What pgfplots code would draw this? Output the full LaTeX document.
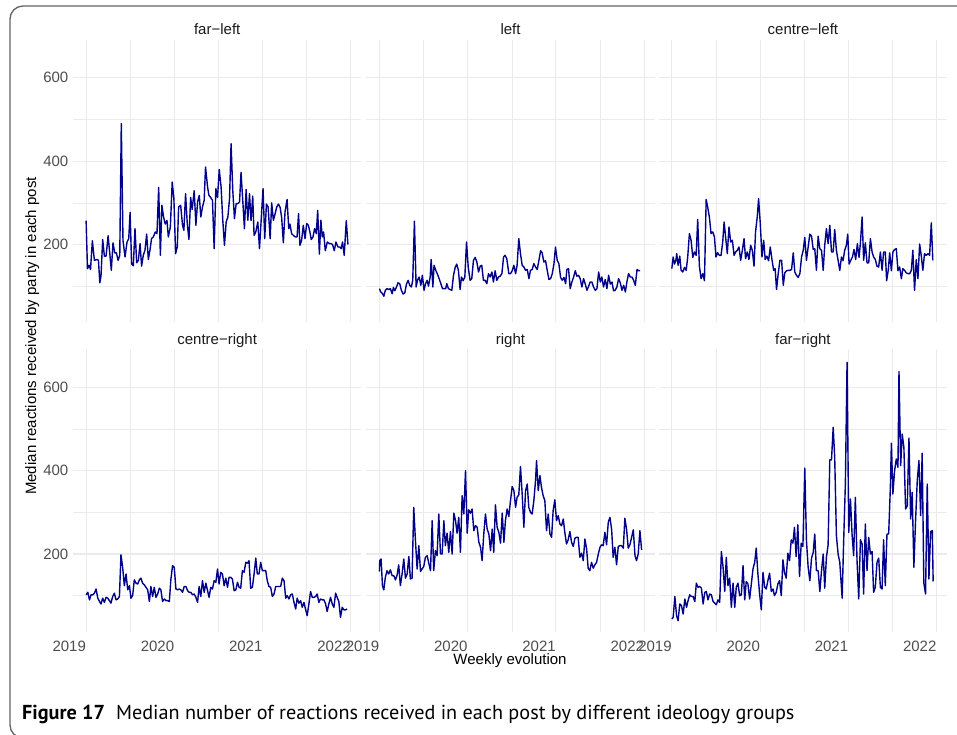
\documentclass[border=0pt]{standalone}
\usepackage{fontspec}
\setmainfont{Liberation Sans}
\newfontfamily\capfont{PT Sans}
\usepackage{pgfplots}
\pgfplotsset{compat=1.18}
\definecolor{linecol}{RGB}{0,0,139}
\definecolor{gridcol}{RGB}{235,235,235}
\definecolor{tickcol}{RGB}{77,77,77}
\definecolor{stripcol}{RGB}{26,26,26}
\definecolor{framecol}{RGB}{100,100,100}
\pgfplotsset{facet/.style={
  scale only axis, width=288.4pt, height=282.3pt,
  xmin=-7.75, xmax=162.75, ymin=13.5, ymax=691,
  xtick={0,52.18,104.36,156.54}, xticklabels={2019,2020,2021,2022},
  minor xtick={26.09,78.27,130.45},
  ytick={200,400,600}, minor ytick={100,300,500},
  grid=both,
  major grid style={draw=gridcol, line width=1.1pt},
  minor grid style={draw=gridcol, line width=0.6pt},
  axis line style={draw=none},
  major tick length=0pt, minor tick length=0pt,
  /pgf/number format/assume math mode=true,
  tick label style={font=\fontsize{15}{18}\selectfont, text=tickcol},
  xticklabel style={anchor=north east, inner sep=0pt, yshift=-9pt},
  yticklabel style={anchor=east, inner sep=0pt, xshift=-4.5pt},
},
ser/.style={draw=linecol, line width=1.4pt, line join=round, mark=none}}
\newcommand{\strip}[2]{\node[anchor=base, inner sep=0pt, yshift=5pt, text=stripcol, font=\fontsize{15}{18}\selectfont] at (#1.north) {#2};}
\begin{document}
\begin{tikzpicture}
\path[use as bounding box] (0,0) rectangle (957pt,734pt);
\draw[framecol, line width=1.3pt, rounded corners=13pt] (10pt,728pt) rectangle (980pt,-4pt);

% far-left
\begin{axis}[facet, name=p1, at={(73pt,411.8pt)}, anchor=south west, xticklabels={}]
\addplot[ser] coordinates {(0,257)(0.8,142)(1.8,150)(2.6,140)(3.7,209)(4.9,162)(6.5,164)(7.3,162)(8.1,108)(8.8,124)(9.8,212)(10.8,172)(11.8,172)(13,221)(14,178)(14.9,138)(15.9,204)(16.9,180)(17.9,180)(18.9,162)(19.9,174)(20.8,490)(21.8,210)(23,170)(24.2,206)(25.2,214)(26,277)(26.9,153)(27.9,149)(28.9,238)(29.9,156)(30.9,162)(31.9,202)(32.8,148)(33.8,174)(34.8,186)(35.8,225)(36.8,164)(37.8,188)(38.7,214)(39.7,218)(40.9,230)(41.9,226)(42.9,337)(43.9,174)(44.8,294)(45.8,266)(46.8,249)(47.8,258)(48.6,218)(49.8,242)(50.9,350)(51.9,310)(52.9,178)(53.9,194)(54.7,290)(55.9,294)(57,246)(57.8,234)(58.8,322)(59.8,250)(60.8,212)(61.8,313)(62.7,284)(63.9,329)(64.9,246)(65.9,302)(66.9,318)(67.8,266)(68.8,290)(69.8,306)(70.6,386)(71.8,338)(72.6,318)(73.6,313)(74.7,306)(75.7,190)(76.7,334)(77.7,313)(78.7,380)(79.8,338)(80.8,258)(81.8,198)(82.8,254)(83.8,266)(84.8,310)(85.7,442)(86.7,330)(87.7,262)(88.7,298)(89.7,298)(90.7,302)(91.6,373)(92.6,306)(93.6,238)(94.6,332)(95.6,258)(96.6,322)(97.5,257)(98.5,316)(99.3,222)(100.3,230)(101.5,254)(102.5,190)(103.6,266)(104.6,334)(105.6,214)(106.6,297)(107.6,290)(108.8,214)(109.7,300)(110.7,258)(111.7,273)(112.7,290)(113.7,297)(114.7,289)(115.6,265)(116.6,204)(117.6,278)(118.8,308)(119.8,238)(120.5,249)(121.5,226)(122.5,222)(123.7,218)(124.7,218)(125.6,274)(126.4,198)(127.4,210)(128.4,246)(129.4,214)(130.4,250)(131.4,246)(132.3,230)(133.1,212)(134.1,218)(135.1,238)(136.1,226)(136.9,282)(137.9,177)(138.8,258)(139.6,218)(140.4,230)(141.4,185)(142.6,206)(143.8,202)(144.7,202)(145.7,200)(146.7,185)(147.7,206)(148.9,194)(149.9,194)(150.8,190)(151.6,206)(152.6,174)(153.8,257)(154.8,200)};
\end{axis}

% left
\begin{axis}[facet, name=p2, at={(366.3pt,411.8pt)}, anchor=south west, xticklabels={}, yticklabels={}]
\addplot[ser] coordinates {(0,94)(0.8,86)(1.8,82)(2.6,76)(3.5,90)(4.5,94)(5.5,92)(6.5,94)(7.5,82)(8.3,97)(9.1,89)(10.1,98)(11,108)(12,106)(13,90)(14,81)(15,84)(16,105)(17,114)(17.9,102)(18.9,98)(19.7,114)(20.7,256)(21.7,98)(22.5,114)(23.5,122)(24.5,102)(25.4,126)(26.4,90)(27.2,105)(28.2,114)(29,100)(30,122)(30.6,164)(31.6,98)(32.3,150)(33.3,138)(34.3,129)(35.3,118)(36.3,106)(37.3,94)(38.3,94)(39.2,94)(39.8,106)(40.8,94)(41.8,92)(42.8,90)(43.8,126)(44.8,145)(45.7,153)(46.7,138)(47.7,92)(48.5,122)(49.5,113)(50.5,122)(51.5,206)(52.5,146)(53.6,114)(54.6,118)(55.6,162)(56.6,169)(57.6,158)(58.6,134)(59.6,148)(60.5,150)(61.5,114)(62.5,114)(63.5,106)(64.5,130)(65.5,122)(66.5,134)(67.4,110)(68.4,137)(69.4,114)(70.4,122)(71.4,124)(72.4,130)(73.4,170)(74.3,174)(75.3,166)(76.5,130)(77.5,130)(78.5,137)(79.5,150)(80.5,130)(81.4,150)(82.4,214)(83.4,178)(84.4,150)(85.4,146)(86.4,138)(87.4,140)(88.4,118)(89.3,138)(90.3,140)(91.3,154)(92.3,146)(93.3,140)(94.3,162)(95.3,185)(96.2,180)(97.2,158)(98.2,161)(99.2,138)(100.2,116)(101.2,118)(102.2,130)(103.2,154)(104.1,194)(105.1,162)(106.1,154)(107.1,121)(108.1,114)(109.1,121)(110.1,106)(110.8,140)(111.8,142)(112.8,94)(113.8,110)(114.8,122)(115.8,137)(116.7,124)(117.7,126)(118.7,118)(119.7,98)(120.7,118)(121.7,105)(122.7,90)(123.7,100)(124.6,110)(125.6,110)(126.6,98)(127.6,90)(128.6,94)(129.6,134)(130.6,110)(131.5,122)(132.5,98)(133.5,116)(134.5,94)(135.5,126)(136.5,105)(137.5,110)(138.4,89)(139.4,90)(140.4,98)(141.4,118)(142.4,108)(143.4,90)(144.4,102)(145.4,86)(146.3,110)(147.3,130)(148.3,122)(149.3,122)(150.3,114)(151.3,102)(152.3,140)(153.3,137)(154.2,137)};
\end{axis}

% centre-left
\begin{axis}[facet, name=p3, at={(658.7pt,411.8pt)}, anchor=south west, xticklabels={}, yticklabels={}]
\addplot[ser] coordinates {(0,142)(0.8,170)(1.6,153)(2.4,162)(2.9,178)(3.7,150)(4.7,172)(5.5,138)(6.5,134)(7.5,145)(8.5,138)(9.4,170)(10.4,226)(11.4,210)(12.4,169)(13.4,182)(14.4,174)(15.3,260)(16.3,148)(17.3,118)(18.3,130)(19.3,113)(20.3,308)(21.2,290)(22.2,266)(23.2,226)(24.2,230)(25.2,218)(26.1,170)(27.1,180)(28.1,174)(29.1,174)(30.1,206)(30.9,254)(31.8,218)(32.8,178)(33.8,242)(34.8,206)(35.8,210)(36.8,174)(37.7,182)(38.7,186)(39.7,194)(40.7,162)(41.7,186)(42.7,214)(43.6,166)(44.6,182)(45.6,164)(46.6,198)(47.6,186)(48.6,148)(49.5,230)(50.5,266)(51.3,310)(52.3,250)(53.3,170)(54.3,210)(55.2,164)(56.2,172)(57.2,161)(58.2,194)(59.2,164)(60.2,138)(61.1,142)(61.9,92)(62.9,130)(63.9,162)(64.9,162)(65.9,102)(66.8,132)(67.8,137)(68.8,138)(69.8,138)(70.8,140)(71.8,180)(72.7,134)(73.7,126)(74.7,121)(75.7,130)(76.7,170)(77.7,186)(78.6,217)(79.6,162)(80.6,194)(81.6,225)(82.6,220)(83.6,188)(84.5,190)(85.5,138)(86.5,220)(87.5,190)(88.5,186)(89.5,138)(90.4,198)(91.4,238)(92.4,202)(93.4,246)(94.4,182)(95.4,182)(96.3,236)(97.3,186)(98.3,162)(99.3,138)(100.3,170)(101.2,161)(102.2,186)(103.2,198)(104,225)(104.8,153)(105.8,162)(106.8,170)(107.7,188)(108.7,164)(109.7,202)(110.7,169)(111.5,204)(112.5,266)(113.4,162)(114.4,204)(115.4,156)(116.4,156)(117.4,214)(118.4,182)(119.3,170)(120.3,164)(121.3,148)(122.3,146)(123.3,182)(124.3,138)(125.2,182)(126.2,182)(127,113)(128,140)(128.8,180)(129.8,137)(130.7,182)(131.7,188)(132.7,190)(133.7,137)(134.7,146)(135.7,118)(136.6,142)(137.6,138)(138.6,132)(139.6,130)(140.6,130)(141.6,138)(142.5,186)(143.5,90)(144.5,164)(145.5,118)(146.5,201)(147.5,172)(148.4,138)(149.4,178)(150.4,174)(151.4,178)(152.4,174)(153.4,252)(154.3,162)};
\end{axis}

% centre-right
\begin{axis}[facet, name=p4, at={(73pt,102.3pt)}, anchor=south west]
\addplot[ser] coordinates {(0,102)(1,108)(2,90)(2.9,102)(3.9,102)(4.9,106)(5.9,116)(6.9,94)(7.9,86)(8.8,80)(9.8,94)(10.8,84)(11.8,96)(12.8,94)(13.8,88)(14.7,82)(15.7,98)(16.7,106)(17.7,90)(18.7,92)(19.7,98)(20.6,198)(21.6,168)(22.6,124)(23.6,152)(24.6,114)(25.6,124)(26.5,94)(27.5,100)(28.5,138)(29.5,130)(30.5,128)(31.5,138)(32.4,142)(33.4,130)(34.4,126)(35.4,120)(36.4,114)(37.4,86)(38.3,122)(39.3,98)(40.3,120)(41.3,96)(42.3,104)(43.3,118)(44.2,114)(45.2,86)(46.2,92)(47.2,88)(48.2,88)(49.2,86)(50.1,138)(51.1,172)(52.1,168)(53.1,116)(54.1,114)(55,116)(56,114)(57,108)(58,122)(59,122)(60,112)(60.9,108)(61.9,108)(62.9,102)(63.9,104)(64.9,96)(65.9,84)(66.8,122)(67.8,98)(68.8,136)(69.8,108)(70.8,130)(71.8,112)(72.7,96)(73.7,120)(74.7,116)(75.7,136)(76.7,132)(77.7,164)(78.6,128)(79.6,156)(80.6,152)(81.6,124)(82.6,142)(83.6,120)(84.5,144)(85.5,144)(86.5,140)(87.5,112)(88.5,114)(89.5,132)(90.4,120)(91.4,118)(92.4,160)(93.4,156)(94.4,180)(95.4,178)(96.3,184)(97.3,118)(98.3,120)(99.3,152)(100.3,190)(101.2,152)(102.2,152)(103.2,180)(104.2,160)(105.2,160)(106.2,160)(107.1,136)(108.1,122)(109.1,120)(110.1,98)(111.1,104)(112.1,122)(113,122)(114,122)(115,122)(116,142)(117,136)(118,94)(118.9,100)(119.9,92)(120.9,102)(121.9,104)(122.9,84)(123.9,68)(124.8,94)(125.8,82)(126.8,88)(127.8,72)(128.8,84)(129.8,66)(130.7,52)(131.7,80)(132.7,110)(133.7,96)(134.7,96)(135.7,98)(136.6,104)(137.6,84)(138.6,92)(139.6,90)(140.6,90)(141.6,80)(142.5,62)(143.5,80)(144.5,96)(145.5,80)(146.5,72)(147.5,106)(148.4,96)(149.4,86)(150.4,48)(151.4,72)(152.4,66)(153.4,66)(154.3,68)};
\end{axis}

% right
\begin{axis}[facet, name=p5, at={(366.3pt,102.3pt)}, anchor=south west, yticklabels={}]
\addplot[ser] coordinates {(0,158)(0.2,184)(1,188)(1.8,124)(2.6,114)(3.5,144)(4.5,160)(5.5,152)(6.5,162)(7.5,148)(8.5,148)(9.5,138)(10.5,150)(11.4,174)(12.4,124)(13.4,152)(14.4,188)(15.4,142)(16.4,152)(17.4,194)(18.3,140)(19.3,142)(20.3,312)(21.3,232)(22.3,164)(23.3,220)(24.3,158)(25.2,164)(26.2,170)(27.2,192)(28.2,196)(29.2,178)(30.2,160)(31.2,280)(32.1,160)(33.1,208)(34.1,196)(35.1,296)(36.1,200)(37.1,200)(38.1,280)(39,220)(40,250)(41,204)(42,254)(43,200)(44,298)(45,280)(45.9,250)(46.9,288)(47.9,204)(48.9,340)(49.9,296)(50.9,400)(51.9,250)(52.8,306)(53.8,298)(54.8,308)(55.8,256)(56.8,268)(57.8,264)(58.8,228)(59.8,216)(60.7,184)(61.7,248)(62.7,296)(63.7,260)(64.7,248)(65.7,208)(66.7,260)(67.6,204)(68.6,318)(69.6,264)(70.6,252)(71.6,226)(72.6,298)(73.6,228)(74.5,280)(75.5,308)(76.5,290)(77.5,328)(78.5,362)(79.5,352)(80.5,312)(81.4,336)(82.4,342)(83.4,410)(84.4,344)(85.4,264)(86.4,352)(87.4,368)(88.3,312)(89.3,300)(90.3,296)(91.3,328)(92.3,376)(92.9,424)(93.9,352)(94.9,388)(95.8,360)(96.8,340)(97.8,328)(98.8,256)(99.8,296)(100.8,248)(101.8,240)(102.7,304)(103.7,330)(104.7,280)(105.7,292)(106.7,272)(107.7,268)(108.7,284)(109.6,252)(110.6,224)(111.6,234)(112.6,254)(113.6,228)(114.6,218)(115.6,238)(116.5,240)(117.5,240)(118.5,192)(119.5,202)(120.5,184)(121.5,236)(122.5,212)(123.4,166)(124.4,160)(125.4,180)(126.4,166)(127.4,174)(128.4,180)(129.4,200)(130.4,216)(131.3,222)(132.3,220)(133.3,252)(134.3,222)(135.3,276)(136.3,288)(137.3,258)(138.2,192)(139.2,216)(140.2,174)(141.2,218)(142.2,220)(143.2,220)(144.2,214)(145.1,286)(146.1,260)(147.1,214)(148.1,222)(149.1,240)(150.1,258)(151.1,196)(152,184)(153,200)(154,256)(155,210)};
\end{axis}

% far-right
\begin{axis}[facet, name=p6, at={(658.7pt,102.3pt)}, anchor=south west, yticklabels={}]
\addplot[ser] coordinates {(0,44)(0.8,48)(1.8,98)(2.8,52)(3.7,40)(4.7,80)(5.7,76)(6.7,56)(7.7,92)(8.7,72)(9.6,88)(10.6,102)(11.6,98)(12.6,98)(13.6,86)(14.5,130)(15.5,120)(16.5,122)(17.5,118)(18.5,80)(19.5,108)(20.4,110)(21.4,90)(22.4,104)(23.4,102)(24.4,86)(25.4,82)(26.3,78)(27.3,90)(28.3,84)(29.3,206)(30.3,168)(31.3,110)(32.2,192)(33.2,124)(34.2,142)(35.2,72)(36.2,130)(37.2,72)(38.1,120)(39.1,130)(40.1,100)(41.1,102)(42.1,172)(43.1,90)(44,134)(45,128)(46,92)(47,128)(48,164)(49,180)(49.9,214)(50.9,152)(51.9,104)(52.9,66)(53.9,156)(54.9,120)(55.8,116)(56.8,136)(57.8,154)(58.8,110)(59.8,116)(60.7,100)(61.7,108)(62.7,128)(63.7,136)(64.7,100)(65.7,186)(66.6,156)(67.6,142)(68.6,202)(69.6,184)(70.6,234)(71.6,226)(72.5,264)(73.5,194)(74.5,270)(75.5,146)(76.5,226)(77.5,218)(78.6,406)(79.6,232)(80.6,168)(81.6,136)(82.6,190)(83.6,204)(84.5,248)(85.5,160)(86.5,160)(87.5,110)(88.5,160)(89.5,200)(90.4,118)(91.4,192)(92.4,222)(93.4,426)(94.4,426)(95.4,504)(96.3,432)(97.3,244)(98.3,200)(99.3,180)(100.7,94)(101.6,232)(102.6,368)(103.6,660)(104.6,252)(105.6,332)(106.6,244)(107.5,196)(108.5,336)(109.5,184)(110.5,92)(111.5,234)(112.5,224)(113.4,104)(114.4,272)(115.4,160)(116.4,240)(117.4,200)(118.4,206)(119.3,108)(120.3,120)(121.3,180)(122.3,190)(123.3,120)(124.3,116)(125.2,234)(126.2,124)(127.2,248)(128.2,248)(129.2,360)(129.8,466)(130.7,344)(131.7,400)(132.7,428)(133.7,408)(134.3,638)(135.3,412)(136.2,488)(137.2,456)(138.2,308)(139.2,316)(140.2,478)(141.2,284)(142.1,348)(143.1,168)(144.1,280)(145.1,376)(146.1,424)(147.1,292)(148,442)(149,130)(150,104)(151,368)(152,140)(153,254)(154,256)(154.5,134)};
\end{axis}

\strip{p1}{far−left}
\strip{p2}{left}
\strip{p3}{centre−left}
\strip{p4}{centre−right}
\strip{p5}{right}
\strip{p6}{far−right}

\node[anchor=base, inner sep=0pt, font=\fontsize{15}{18}\selectfont] at (510pt,70pt) {Weekly evolution};
\node[anchor=base, inner sep=0pt, rotate=90, font=\fontsize{15}{18}\selectfont] at (36pt,398pt) {Median reactions received by party in each post};

\node[anchor=base west, inner sep=0pt, font=\capfont\fontsize{20.2}{24}\selectfont] at (22pt,15pt) {\textbf{Figure 17}\hspace{0.55em}Median number of reactions received in each post by different ideology groups};
\end{tikzpicture}
\end{document}
